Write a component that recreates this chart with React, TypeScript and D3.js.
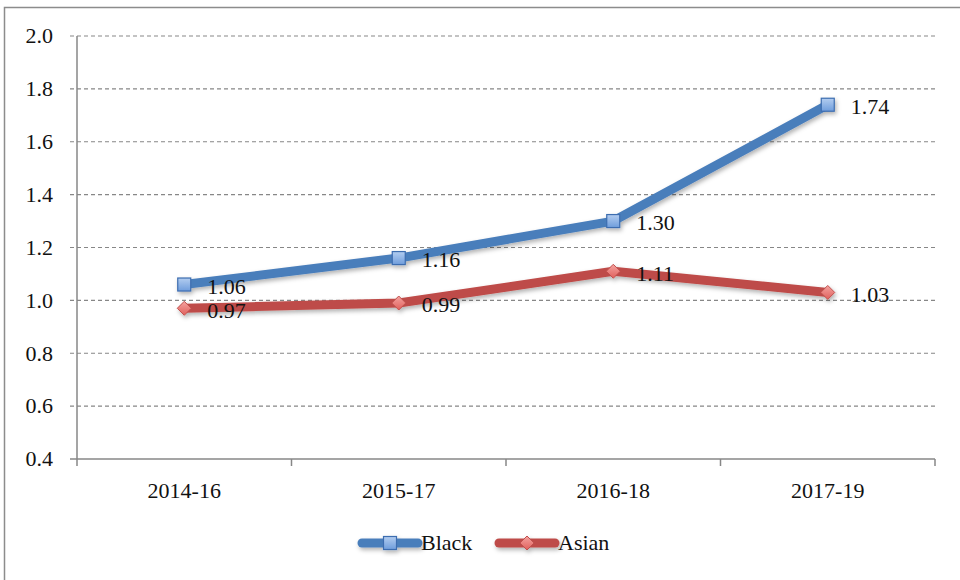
import React from "react";
import * as d3 from "d3";

const categories = ["2014-16", "2015-17", "2016-18", "2017-19"];
const blackValues = [1.06, 1.16, 1.3, 1.74];
const asianValues = [0.97, 0.99, 1.11, 1.03];
const yTicks = [0.4, 0.6, 0.8, 1.0, 1.2, 1.4, 1.6, 1.8, 2.0];
const seriesNames = ["Black", "Asian"];

const W = 960;
const H = 580;
const plot = { left: 77, right: 935, top: 36, bottom: 459 };
const FONT = '"Liberation Serif", "Times New Roman", "DejaVu Serif", Times, serif';
const BLUE = "#4a7ebb";
const RED = "#be4b48";
const GRID = "#878787";
const LINE_W = 9;

export default function App() {
  const x = d3
    .scaleBand<string>()
    .domain(categories)
    .range([plot.left, plot.right]);
  const y = d3.scaleLinear().domain([0.4, 2.0]).range([plot.bottom, plot.top]);
  const cx = (c: string) => (x(c) ?? 0) + x.bandwidth() / 2;

  const line = d3
    .line<number>()
    .x((_, i) => cx(categories[i]))
    .y((d) => y(d));

  const boundaries = [...categories.map((c) => x(c) ?? 0), plot.right];

  const square = (px: number, py: number, key: string | number) => (
    <rect
      key={key}
      x={px - 6.5}
      y={py - 6.5}
      width={13}
      height={13}
      fill="url(#sqFill)"
      stroke="#3c6db0"
      strokeWidth={1.2}
    />
  );
  const diamond = (px: number, py: number, key: string | number) => (
    <path
      key={key}
      d={`M${px},${py - 7}L${px + 7},${py}L${px},${py + 7}L${px - 7},${py}Z`}
      fill="url(#dmFill)"
      stroke="#c0504d"
      strokeWidth={1}
    />
  );

  const textStyle = { fontFamily: FONT };
  const FS = 22;

  return (
    <svg
      width={W}
      height={H}
      style={{ position: "absolute", left: 0, top: 0, background: "#fff", fontFamily: FONT }}
    >
      <defs>
        <filter id="shadow" x="-10%" y="-30%" width="130%" height="180%">
          <feDropShadow dx="1.5" dy="2.5" stdDeviation="2" floodColor="#000" floodOpacity="0.3" />
        </filter>
        <linearGradient id="sqFill" x1="0" y1="0" x2="0" y2="1">
          <stop offset="0" stopColor="#b3cdf0" />
          <stop offset="1" stopColor="#6f9ddc" />
        </linearGradient>
        <linearGradient id="dmFill" x1="0" y1="0" x2="0" y2="1">
          <stop offset="0" stopColor="#f4a3a0" />
          <stop offset="1" stopColor="#e0605c" />
        </linearGradient>
      </defs>

      {/* outer frame */}
      <rect x={4.5} y={7.5} width={1000} height={1000} fill="none" stroke="#8c8c8c" strokeWidth={1.5} />

      {/* gridlines */}
      {yTicks.map((t) =>
        t === 0.4 ? null : (
          <line
            key={t}
            x1={plot.left - 7}
            x2={plot.right}
            y1={y(t)}
            y2={y(t)}
            stroke={GRID}
            strokeWidth={1.2}
            strokeDasharray="4 3"
          />
        )
      )}

      {/* axes */}
      <line x1={plot.left} x2={plot.left} y1={plot.top} y2={plot.bottom} stroke={GRID} strokeWidth={1.5} />
      <line x1={plot.left - 7} x2={plot.right} y1={plot.bottom} y2={plot.bottom} stroke={GRID} strokeWidth={1.5} />
      {boundaries.map((b, i) => (
        <line key={i} x1={b} x2={b} y1={plot.bottom} y2={plot.bottom + 7} stroke={GRID} strokeWidth={1.5} />
      ))}

      {/* y tick labels */}
      {yTicks.map((t) => (
        <text
          key={t}
          x={53}
          y={y(t)}
          dy="0.33em"
          textAnchor="end"
          fontSize={FS}
          fill="#111"
          style={textStyle}
        >
          {t.toFixed(1)}
        </text>
      ))}

      {/* x tick labels */}
      {categories.map((c) => (
        <text key={c} x={cx(c)} y={plot.bottom + 39} textAnchor="middle" fontSize={FS} fill="#111" style={textStyle}>
          {c}
        </text>
      ))}

      {/* series */}
      <g filter="url(#shadow)">
        <path d={line(blackValues) ?? ""} fill="none" stroke={BLUE} strokeWidth={LINE_W} strokeLinejoin="round" strokeLinecap="round" />
        {blackValues.map((v, i) => square(cx(categories[i]), y(v), "b" + i))}
      </g>
      <g filter="url(#shadow)">
        <path d={line(asianValues) ?? ""} fill="none" stroke={RED} strokeWidth={LINE_W} strokeLinejoin="round" strokeLinecap="round" />
        {asianValues.map((v, i) => diamond(cx(categories[i]), y(v), "a" + i))}
      </g>

      {/* data labels */}
      {blackValues.map((v, i) => (
        <text key={"lb" + i} x={cx(categories[i]) + 23} y={y(v) + 2} dy="0.33em" fontSize={FS} fill="#111" style={textStyle}>
          {v.toFixed(2)}
        </text>
      ))}
      {asianValues.map((v, i) => (
        <text key={"la" + i} x={cx(categories[i]) + 23} y={y(v) + 2} dy="0.33em" fontSize={FS} fill="#111" style={textStyle}>
          {v.toFixed(2)}
        </text>
      ))}

      {/* legend */}
      <g filter="url(#shadow)">
        <line x1={362} x2={418} y1={543} y2={543} stroke={BLUE} strokeWidth={LINE_W} strokeLinecap="round" />
        {square(390, 543, "lgb")}
        <line x1={499} x2={555} y1={543} y2={543} stroke={RED} strokeWidth={LINE_W} strokeLinecap="round" />
        {diamond(527, 543, "lga")}
      </g>
      <text x={421} y={543} dy="0.33em" fontSize={FS} fill="#111" style={textStyle}>
        {seriesNames[0]}
      </text>
      <text x={558} y={543} dy="0.33em" fontSize={FS} fill="#111" style={textStyle}>
        {seriesNames[1]}
      </text>
    </svg>
  );
}
